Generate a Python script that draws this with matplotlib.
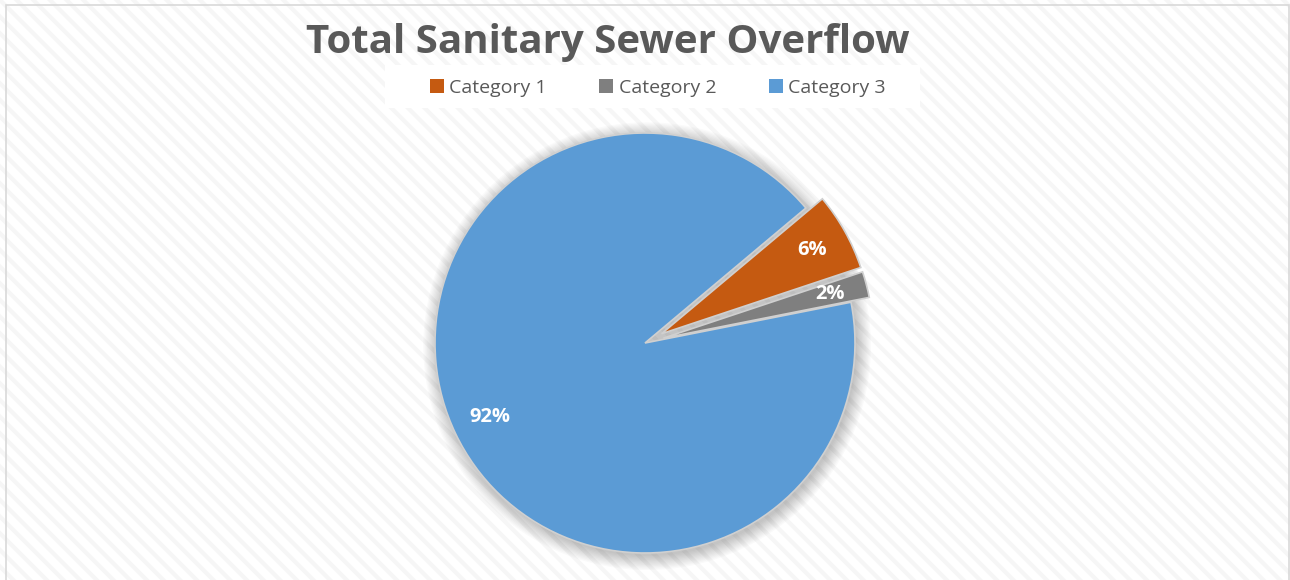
import matplotlib.pyplot as plt
from matplotlib.patches import Rectangle, Patch, Circle

# data
categories = ["Category 1", "Category 2", "Category 3"]
shares = [6, 2, 92]
colors = ["#C55A11", "#7F7F7F", "#5B9BD5"]
explode = [0.09, 0.09, 0.0]
title = "Total Sanitary Sewer Overflow"

plt.rcParams['font.family'] = ['Open Sans', 'DejaVu Sans']
plt.rcParams['hatch.linewidth'] = 3.0

W, H = 1290, 580
fig = plt.figure(figsize=(W / 100, H / 100), dpi=100)
fig.patch.set_facecolor("white")

# background: faint diagonal stripes + thin border
bg = Rectangle((0, 0), 1, 1, transform=fig.transFigure, facecolor="white",
               edgecolor="#f6f6f6", hatch="\\\\", linewidth=0, zorder=-10)
fig.patches.append(bg)
border = Rectangle((6 / W, -0.01), (1289 - 6) / W, 1 - 5 / H + 0.01,
                   transform=fig.transFigure, facecolor="none",
                   edgecolor="#d9d9d9", linewidth=1.2, zorder=-9)
fig.patches.append(border)

# pie axes: radius 1 = 210 px, centre at (645, 343) px from top-left
R = 210
cx, cy = 645, 343
ax = fig.add_axes([0, 0, 1, 1])
ax.patch.set_alpha(0)

# soft shadow around pie
for i in range(12):
    ax.add_patch(Circle((0.01, -0.015), 1 + 0.006 * i, facecolor="#000000",
                        alpha=0.018, linewidth=0, zorder=0))

wedges, texts, autotexts = ax.pie(
    shares, colors=colors, explode=explode, startangle=40, counterclock=False,
    autopct="%1.0f%%", pctdistance=0.82,
    wedgeprops=dict(edgecolor="#d0d0d0", linewidth=1.2, zorder=2),
    textprops=dict(color="white", fontsize=14.5, fontweight="bold"))
for t in autotexts:
    t.set_zorder(3)

ax.set_xlim(-cx / R, (W - cx) / R)
ax.set_ylim(-(H - cy) / R, cy / R)
ax.set_aspect("equal")
ax.axis("off")

fig.text(608 / W, 1 - 42 / H, title, ha="center", va="center",
         fontsize=29, fontweight="bold", color="#595959")

# legend on a white strip
fig.patches.append(Rectangle((385 / W, 1 - 108 / H), (920 - 385) / W, 43 / H,
                             transform=fig.transFigure, facecolor="white",
                             edgecolor="none", zorder=1))
handles = [Patch(facecolor=c, edgecolor="none") for c in colors]
fig.legend(handles, categories, ncol=3, loc="center",
           bbox_to_anchor=(658 / W, 1 - 88 / H), frameon=False,
           fontsize=14, labelcolor="#595959", handlelength=0.7,
           handleheight=0.7, handletextpad=0.3, columnspacing=2.7)

fig.savefig("out.png", dpi=100)
